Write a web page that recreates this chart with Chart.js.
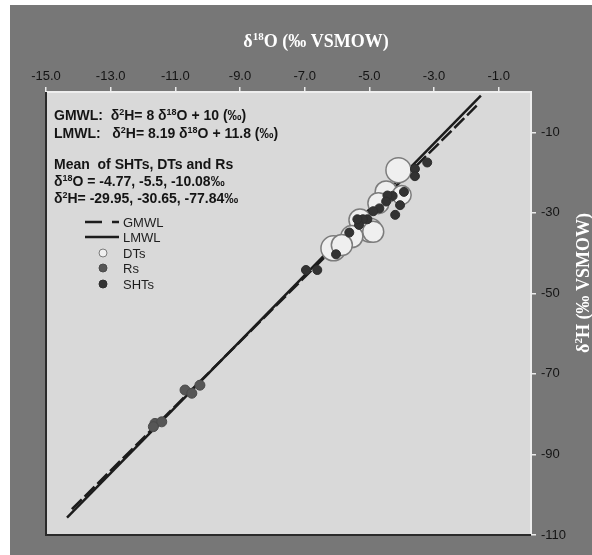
<!DOCTYPE html>
<html>
<head>
<meta charset="utf-8">
<script src="https://cdn.jsdelivr.net/npm/chart.js@4"></script>
<style>
  html, body { margin: 0; padding: 0; background: #fff; }
  canvas { display: block; }
</style>
</head>
<body>
<canvas id="isoChart" width="592" height="555"></canvas>
<script>
// axis ticks
const xTicks = [-15, -13, -11, -9, -7, -5, -3, -1];
const yTicks = [-110, -90, -70, -50, -30, -10];

// meteoric water lines (end points)
const gmwlX = [-14.2, -1.68];
const gmwlY = [-103.6, -3.4];
const lmwlX = [-14.35, -1.55];
const lmwlY = [-105.7, -0.9];

// DTs (open bubbles)
const dtX = [-4.10, -4.48, -4.00, -4.72, -5.29, -4.98, -4.88, -5.54, -6.11, -5.85];
const dtY = [-19.4, -24.8, -25.6, -27.6, -31.8, -34.3, -34.7, -35.9, -38.8, -38.0];

// Rs
const rsX = [-10.70, -10.49, -10.24, -11.63, -11.42, -11.68];
const rsY = [-74.0, -74.8, -72.8, -82.3, -81.9, -83.1];

// SHTs
const shtX = [-3.21, -3.59, -3.59, -3.93, -4.28, -4.44, -4.48, -4.05, -4.20, -4.69,
              -4.88, -5.06, -5.20, -5.32, -5.37, -5.62, -6.03, -6.96, -6.61];
const shtY = [-17.5, -19.1, -20.9, -24.8, -25.8, -25.7, -27.2, -28.1, -30.5, -28.9,
              -29.6, -31.6, -31.6, -33.0, -31.6, -34.9, -40.3, -44.2, -44.2];

// means printed in the plot
const meanO18 = [-4.77, -5.5, -10.08];
const meanH2 = [-29.95, -30.65, -77.84];

// bubble sizes for DTs (style only)
const dtRadius = [12.5, 11, 9.5, 10.5, 11, 12, 10.5, 11, 12.5, 10.5];

const pts = (xs, ys) => xs.map((x, i) => ({ x: x, y: ys[i] }));

// draws text with superscript parts: parts = [[text, isSup], ...]
function drawRich(ctx, x, y, parts, size, family, weight, color) {
    let cx = x;
    ctx.fillStyle = color;
    ctx.textBaseline = "alphabetic";
    ctx.textAlign = "left";
    parts.forEach(p => {
        const sup = p[1];
        const fs = sup ? Math.round(size * 0.62) : size;
        ctx.font = weight + " " + fs + "px " + family;
        ctx.fillText(p[0], cx, sup ? y - size * 0.38 : y);
        cx += ctx.measureText(p[0]).width;
    });
    return cx - x;
}

function richWidth(ctx, parts, size, family, weight) {
    let w = 0;
    parts.forEach(p => {
        const fs = p[1] ? Math.round(size * 0.62) : size;
        ctx.font = weight + " " + fs + "px " + family;
        w += ctx.measureText(p[0]).width;
    });
    return w;
}

const backdrop = {
    id: "backdrop",
    beforeDraw(chart) {
        const ctx = chart.ctx;
        const a = chart.chartArea;
        ctx.save();
        ctx.fillStyle = "#ffffff";
        ctx.fillRect(0, 0, chart.width, chart.height);
        ctx.fillStyle = "#777777";
        ctx.fillRect(10, 5, chart.width - 10, chart.height - 5);
        ctx.fillStyle = "#d9d9d9";
        ctx.fillRect(a.left, a.top, a.right - a.left, a.bottom - a.top);
        ctx.restore();
    },
    afterDatasetsDraw(chart) {
        const ctx = chart.ctx;
        const a = chart.chartArea;
        ctx.save();
        ctx.lineWidth = 2;
        ctx.strokeStyle = "#eeeeee";
        ctx.beginPath();
        ctx.moveTo(a.left, a.top);
        ctx.lineTo(a.right, a.top);
        ctx.lineTo(a.right, a.bottom);
        ctx.stroke();
        ctx.strokeStyle = "#2a2a2a";
        ctx.beginPath();
        ctx.moveTo(a.left, a.top);
        ctx.lineTo(a.left, a.bottom);
        ctx.lineTo(a.right, a.bottom);
        ctx.stroke();
        ctx.restore();
    },
    afterDraw(chart) {
        const ctx = chart.ctx;
        ctx.save();

        // axis titles
        const serif = "'Liberation Serif', 'DejaVu Serif', serif";
        const topTitle = [["δ", false], ["18", true], ["O (‰ VSMOW)", false]];
        const tw = richWidth(ctx, topTitle, 18, serif, "bold");
        drawRich(ctx, 316 - tw / 2, 47, topTitle, 18, serif, "bold", "#ffffff");

        const sideTitle = [["δ", false], ["2", true], ["H (‰ VSMOW)", false]];
        const sw = richWidth(ctx, sideTitle, 18, serif, "bold");
        ctx.save();
        ctx.translate(589, 283);
        ctx.rotate(-Math.PI / 2);
        drawRich(ctx, -sw / 2, 0, sideTitle, 18, serif, "bold", "#ffffff");
        ctx.restore();

        // equations and means
        const sans = "'Liberation Sans', Arial, sans-serif";
        const txt = "#141414";
        drawRich(ctx, 54, 120, [["GMWL:  δ", false], ["2", true], ["H= 8 δ", false], ["18", true], ["O + 10 (‰)", false]], 14, sans, "bold", txt);
        drawRich(ctx, 54, 138, [["LMWL:   δ", false], ["2", true], ["H= 8.19 δ", false], ["18", true], ["O + 11.8 (‰)", false]], 14, sans, "bold", txt);
        drawRich(ctx, 54, 169, [["Mean  of SHTs, DTs and Rs", false]], 14, sans, "bold", txt);
        drawRich(ctx, 54, 186, [["δ", false], ["18", true], ["O = " + meanO18.join(", ") + "‰", false]], 14, sans, "bold", txt);
        drawRich(ctx, 54, 203, [["δ", false], ["2", true], ["H= " + meanH2.join(", ") + "‰", false]], 14, sans, "bold", txt);

        // legend
        const ds = chart.data.datasets;
        const rows = [222, 237, 253, 268, 284];
        ctx.font = "13px " + sans;
        ctx.textBaseline = "middle";
        ds.forEach((d, i) => {
            const y = rows[i];
            ctx.fillStyle = "#1e1e1e";
            ctx.fillText(d.label, 123, y + 1);
            if (d.showLine) {
                ctx.strokeStyle = d.borderColor;
                ctx.lineWidth = 2.5;
                ctx.beginPath();
                if (d.borderDash) {
                    ctx.moveTo(85, y); ctx.lineTo(102, y);
                    ctx.moveTo(112, y); ctx.lineTo(119, y);
                } else {
                    ctx.moveTo(85, y); ctx.lineTo(119, y);
                }
                ctx.stroke();
            } else {
                ctx.beginPath();
                ctx.arc(103, y, 4, 0, Math.PI * 2);
                ctx.fillStyle = d.backgroundColor;
                ctx.fill();
                ctx.lineWidth = 1;
                ctx.strokeStyle = d.borderColor;
                ctx.stroke();
            }
        });
        ctx.restore();
    }
};

const tickFont = { family: "'Liberation Sans', Arial, sans-serif", size: 13 };

new Chart(document.getElementById("isoChart"), {
    type: "scatter",
    data: {
        datasets: [
            { label: "GMWL", data: pts(gmwlX, gmwlY), showLine: true, borderColor: "#1c1c1c", borderWidth: 2.5,
              borderDash: [14, 4], pointRadius: 0, fill: false, order: 5 },
            { label: "LMWL", data: pts(lmwlX, lmwlY), showLine: true, borderColor: "#1c1c1c", borderWidth: 2.5,
              pointRadius: 0, fill: false, order: 4 },
            { label: "DTs", data: pts(dtX, dtY), pointRadius: dtRadius, backgroundColor: "#efefef",
              borderColor: "#7c7c7c", borderWidth: 1.5, order: 3 },
            { label: "Rs", data: pts(rsX, rsY), pointRadius: 5, backgroundColor: "#565656",
              borderColor: "#4a4a4a", borderWidth: 1, order: 2 },
            { label: "SHTs", data: pts(shtX, shtY), pointRadius: 4.5, backgroundColor: "#333333",
              borderColor: "#2e2e2e", borderWidth: 1, order: 1 }
        ]
    },
    options: {
        responsive: false,
        animation: false,
        layout: { padding: { left: 46, right: 0, top: 0, bottom: 20 } },
        plugins: { legend: { display: false }, tooltip: { enabled: false } },
        scales: {
            x: {
                type: "linear", position: "top", min: -15, max: 0,
                afterBuildTicks: s => { s.ticks = xTicks.map(v => ({ value: v })); },
                afterFit: s => { s.height = 92; },
                grid: { drawOnChartArea: false, drawTicks: true, tickLength: 5, color: "#ececec", lineWidth: 1.5 },
                border: { display: false },
                ticks: { padding: 3, color: "#141414", font: tickFont, maxRotation: 0, autoSkip: false,
                         callback: v => v.toFixed(1) }
            },
            y: {
                type: "linear", position: "right", min: -110, max: 0,
                afterBuildTicks: s => { s.ticks = yTicks.map(v => ({ value: v })); },
                afterFit: s => { s.width = 61; },
                grid: { drawOnChartArea: false, drawTicks: true, tickLength: 5, color: "#ececec", lineWidth: 1.5 },
                border: { display: false },
                ticks: { padding: 5, color: "#141414", font: tickFont, autoSkip: false,
                         callback: v => String(v) }
            }
        }
    },
    plugins: [backdrop]
});
</script>
</body>
</html>
